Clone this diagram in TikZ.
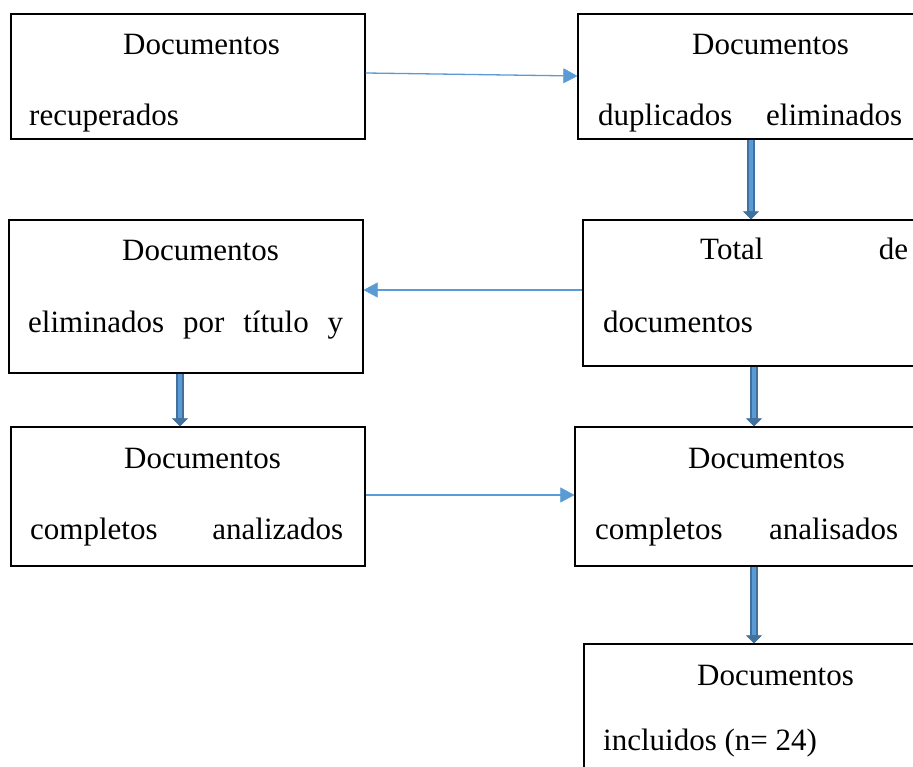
\documentclass[tikz,border=0pt]{standalone}
\usepackage{fontspec}
\setmainfont{Liberation Serif}
\usetikzlibrary{arrows.meta,calc}
\definecolor{lt}{HTML}{5B9BD5}
\definecolor{dk}{HTML}{41719C}
\begin{document}
\begin{tikzpicture}[x=1pt,y=-1pt,
  box/.style={draw=black,line width=1.2pt,inner sep=0pt,rectangle},
  txt/.style={inner sep=0pt,anchor=base west,font=\fontsize{31}{37}\selectfont},
  thin/.style={draw=lt,line width=1.3pt,-{Triangle[width=15pt,length=14pt,line width=0.5pt]}},
  thko/.style={draw=dk,line width=8pt,-{Triangle[width=16pt,length=8pt,line width=0.5pt]}},
  thki/.style={draw=lt,line width=4.5pt,shorten >=8.5pt}]
\path[use as bounding box] (0,0) rectangle (913,767);
\fill[white] (0,0) rectangle (913,767);
\clip (0,0) rectangle (913,767);

% boxes
\node[box,minimum width=354pt,minimum height=125pt] (A) at (188,76.5) {};
\node[box,minimum width=357pt,minimum height=125pt] (B) at (756.5,76.5) {};
\node[box,minimum width=354pt,minimum height=153pt] (C) at (186,296.5) {};
\node[box,minimum width=352pt,minimum height=146pt] (D) at (759,293) {};
\node[box,minimum width=354pt,minimum height=139pt] (E) at (188,496.5) {};
\node[box,minimum width=360pt,minimum height=139pt] (F) at (755,496.5) {};
\node[box,minimum width=351pt,minimum height=156pt] (G) at (759.5,722) {};

% texts
\node[txt] (tA1) at (123,55) {Documentos};
\node[txt] (tA2) at (29,126) {recuperados};
\node[txt] (tB1) at (692,55) {Documentos};
\node[txt] (tB2) at (598,126) {\makebox[304pt][s]{duplicados eliminados}};
\node[txt] (tC1) at (122,261) {Documentos};
\node[txt] (tC2) at (28,332) {\makebox[315pt][s]{eliminados por título y}};
\node[txt] (tD1) at (700,260) {\makebox[208pt][s]{Total de}};
\node[txt] (tD2) at (603,332) {documentos};
\node[txt] (tE1) at (124,468) {Documentos};
\node[txt] (tE2) at (30,539) {\makebox[313pt][s]{completos analizados}};
\node[txt] (tF1) at (688,468) {Documentos};
\node[txt] (tF2) at (595,539) {\makebox[303pt][s]{completos analisados}};
\node[txt] (tG1) at (697,685) {Documentos};
\node[txt] (tG2) at (603,750) {incluidos (n= 24)};

% thin connectors
\draw[thin] ($(A.east)+(0,-3.5)$) -- ($(B.west)+(0,-0.5)$);
\draw[thin] ($(D.west)+(0,-3)$) -- ($(C.east)+(0,-6.5)$);
\draw[thin] ($(E.east)+(0,-1.5)$) -- ($(F.west)+(0,-1.5)$);

% thick connectors
\draw[thko] ($(B.south)+(-5.5,0)$) -- ($(D.north)+(-8,0)$);
\draw[thki] ($(B.south)+(-5.5,0)$) -- ($(D.north)+(-8,0)$);
\draw[thko] ($(C.south)+(-6,0)$) -- ($(E.north)+(-8,0)$);
\draw[thki] ($(C.south)+(-6,0)$) -- ($(E.north)+(-8,0)$);
\draw[thko] ($(D.south)+(-5,0)$) -- ($(F.north)+(-1,0)$);
\draw[thki] ($(D.south)+(-5,0)$) -- ($(F.north)+(-1,0)$);
\draw[thko] ($(F.south)+(-1,0)$) -- ($(G.north)+(-5.5,0)$);
\draw[thki] ($(F.south)+(-1,0)$) -- ($(G.north)+(-5.5,0)$);
\end{tikzpicture}
\end{document}
